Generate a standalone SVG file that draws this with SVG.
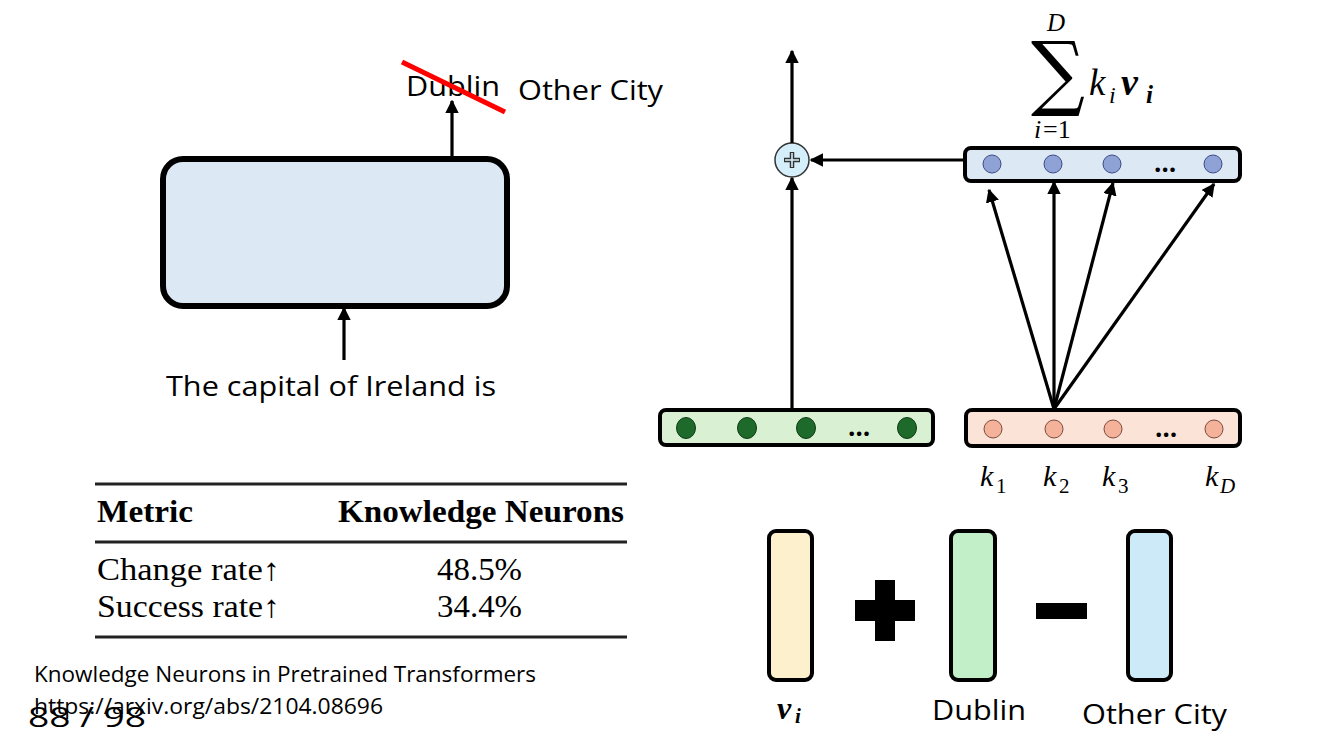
<svg xmlns="http://www.w3.org/2000/svg" width="1334" height="750" viewBox="0 0 1334 750">
<defs>
<marker id="ah" viewBox="0 0 10 10" refX="9" refY="5" markerWidth="4.2" markerHeight="4.2" orient="auto-start-reverse" markerUnits="strokeWidth">
<path d="M0,0 L10,5 L0,10 z" fill="#000"/>
</marker>
<style>
.sans{font-family:"Open Sans","Liberation Sans",sans-serif;fill:#000}
.serif{font-family:"Liberation Serif","Times New Roman",serif;fill:#000}
.math{font-family:"Liberation Serif","DejaVu Serif",serif;font-style:italic;fill:#000}
.conn{stroke:#000;stroke-width:3.2;fill:none;marker-end:url(#ah)}
.vec{stroke:#000;stroke-width:4}
.rule{stroke:#222;stroke-width:3}
.dots{font-family:"Open Sans","Liberation Sans",sans-serif;font-size:26px;font-weight:bold;fill:#000}
</style>
</defs>
<rect width="1334" height="750" fill="#fff"/>

<g id="transformer">
<rect x="163" y="159" width="344" height="147" rx="20" fill="#dde8f5" stroke="#000" stroke-width="6"/>
</g>
<g id="input-text">
<text class="sans" x="166" y="396" font-size="28" textLength="330" lengthAdjust="spacingAndGlyphs">The capital of Ireland is</text>
</g>
<g id="output-text">
<text class="sans" x="406" y="96" font-size="28" textLength="94" lengthAdjust="spacingAndGlyphs">Dublin</text>
<text class="sans" x="518" y="100" font-size="28" textLength="145" lengthAdjust="spacingAndGlyphs">Other City</text>
<line x1="402" y1="62" x2="505" y2="112" stroke="#ff0000" stroke-width="5"/>
</g>

<g id="sum-formula">
<text class="math" x="1047" y="31" font-size="25">D</text>
<text x="0" y="0" font-size="84" font-family="DejaVu Serif,serif" transform="translate(1031,100) scale(0.9,0.98)">∑</text>
<text class="math" x="1089" y="95" font-size="37">k</text>
<text class="math" x="1109" y="103" font-size="24">i</text>
<text class="math" x="1121" y="95" font-size="38" font-weight="bold">v</text>
<text class="math" x="1146" y="103" font-size="25" font-weight="bold">i</text>
<text class="math" x="1034" y="138" font-size="26">i</text>
<text class="serif" x="1043" y="138" font-size="26">=1</text>
</g>

<g id="value-layer">
<rect x="965" y="148" width="275" height="33" rx="6" fill="#dde8f5" stroke="#000" stroke-width="4"/>
<g fill="#8fa2d6" stroke="#3b4a82" stroke-width="1">
<circle cx="992" cy="164" r="9"/><circle cx="1053" cy="164" r="9"/><circle cx="1112" cy="164" r="9"/><circle cx="1213" cy="164" r="9"/>
</g>
<text class="dots" x="1165" y="172" text-anchor="middle">…</text>
</g>

<g id="key-layer">
<rect x="966" y="410" width="274" height="36" rx="6" fill="#fbe4d7" stroke="#000" stroke-width="4"/>
<g fill="#f5b29b" stroke="#7a4a3a" stroke-width="1">
<circle cx="993" cy="429" r="9"/><circle cx="1054" cy="429" r="9"/><circle cx="1113" cy="429" r="9"/><circle cx="1214" cy="429" r="9"/>
</g>
<text class="dots" x="1166" y="437" text-anchor="middle">…</text>
</g>
<g id="key-labels">
<text class="math" x="980" y="486" font-size="30">k</text><text class="serif" x="996" y="493" font-size="21">1</text>
<text class="math" x="1043" y="486" font-size="30">k</text><text class="serif" x="1059" y="493" font-size="21">2</text>
<text class="math" x="1102" y="486" font-size="30">k</text><text class="serif" x="1118" y="493" font-size="21">3</text>
<text class="math" x="1205" y="486" font-size="30">k</text><text class="math" x="1220" y="493" font-size="21">D</text>
</g>

<g id="hidden-layer">
<rect x="660" y="410" width="273" height="35" rx="6" fill="#d9f0d2" stroke="#000" stroke-width="4"/>
<g fill="#1d6a2a" stroke="#0d3a14" stroke-width="1">
<ellipse cx="686" cy="428" rx="9.5" ry="10.5"/><ellipse cx="747" cy="428" rx="9.5" ry="10.5"/><ellipse cx="806" cy="428" rx="9.5" ry="10.5"/><ellipse cx="907" cy="428" rx="9.5" ry="10.5"/>
</g>
<text class="dots" x="859" y="436" text-anchor="middle">…</text>
</g>

<g id="add-node">
<circle cx="792" cy="160" r="17" fill="#d5effa" stroke="#333" stroke-width="1.5"/>
<path d="M784,160 H800 M792,152 V168" stroke="#333" stroke-width="4.5" fill="none"/>
<path d="M785,160 H799 M792,153 V167" stroke="#d5effa" stroke-width="1.6" fill="none"/>
</g>

<g id="connectors">
<line class="conn" x1="452" y1="158" x2="452" y2="101"/>
<line class="conn" x1="344" y1="360" x2="344" y2="308"/>
<line class="conn" x1="792" y1="408" x2="792" y2="178"/>
<line class="conn" x1="792" y1="143" x2="792" y2="51"/>
<line class="conn" x1="963" y1="160" x2="811" y2="160"/>
<line class="conn" x1="1054" y1="409" x2="989" y2="190"/>
<line class="conn" x1="1054" y1="409" x2="1054" y2="182"/>
<line class="conn" x1="1054" y1="409" x2="1113" y2="183"/>
<line class="conn" x1="1054" y1="409" x2="1214" y2="184"/>
</g>

<g id="results-table">
<line class="rule" x1="95" y1="484" x2="627" y2="484"/>
<text class="serif" x="97" y="522" font-size="31" font-weight="bold" textLength="96" lengthAdjust="spacingAndGlyphs">Metric</text>
<text class="serif" x="338" y="522" font-size="31" font-weight="bold" textLength="286" lengthAdjust="spacingAndGlyphs">Knowledge Neurons</text>
<line class="rule" x1="95" y1="542" x2="627" y2="542"/>
<text class="serif" x="97" y="580" font-size="31" textLength="183" lengthAdjust="spacingAndGlyphs">Change rate↑</text>
<text class="serif" x="437" y="580" font-size="31" textLength="85" lengthAdjust="spacingAndGlyphs">48.5%</text>
<text class="serif" x="97" y="617" font-size="31" textLength="183" lengthAdjust="spacingAndGlyphs">Success rate↑</text>
<text class="serif" x="437" y="617" font-size="31" textLength="85" lengthAdjust="spacingAndGlyphs">34.4%</text>
<line class="rule" x1="95" y1="637" x2="627" y2="637"/>
</g>

<g id="citation">
<text class="sans" x="34" y="682" font-size="21" textLength="502" lengthAdjust="spacingAndGlyphs">Knowledge Neurons in Pretrained Transformers</text>
<text class="sans" x="34" y="714" font-size="21" textLength="349" lengthAdjust="spacingAndGlyphs">https://arxiv.org/abs/2104.08696</text>
<text class="sans" x="28" y="727" font-size="28" textLength="118" lengthAdjust="spacingAndGlyphs">88 / 98</text>
</g>

<g id="vector-vi">
<rect x="769" y="531" width="43" height="149" rx="7" fill="#fdf1cd" class="vec"/>
<text class="math" x="777" y="719" font-size="32" font-weight="bold">v</text>
<text class="math" x="795" y="723" font-size="21" font-weight="bold">i</text>
</g>
<g id="plus-sign">
<rect x="855" y="600" width="60" height="21" fill="#000"/>
<rect x="875" y="580" width="20" height="61" fill="#000"/>
</g>
<g id="vector-dublin">
<rect x="951" y="531" width="44" height="149" rx="7" fill="#c3efc8" class="vec"/>
<text class="sans" x="932" y="720" font-size="28" textLength="94" lengthAdjust="spacingAndGlyphs">Dublin</text>
</g>
<g id="minus-sign">
<rect x="1036" y="603" width="51" height="16" fill="#000"/>
</g>
<g id="vector-other">
<rect x="1128" y="531" width="43" height="149" rx="7" fill="#cdeaf9" class="vec"/>
<text class="sans" x="1082" y="724" font-size="28" textLength="145" lengthAdjust="spacingAndGlyphs">Other City</text>
</g>
</svg>
